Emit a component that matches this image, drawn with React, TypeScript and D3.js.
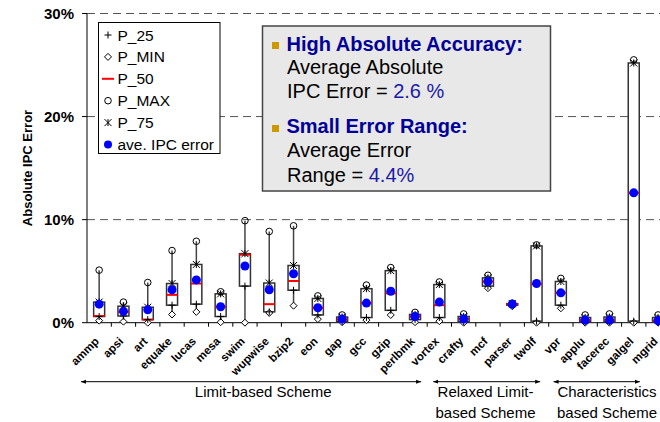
import React from "react";
import * as d3 from "d3";

const categories = ["ammp","apsi","art","equake","lucas","mesa","swim","wupwise","bzip2","eon","gap","gcc","gzip","perlbmk","vortex","crafty","mcf","parser","twolf","vpr","applu","facerec","galgel","mgrid"];
const pMin = [0.2,0.1,0.0,0.8,1.05,0.05,0.0,0.95,1.65,0.35,0.05,0.25,0.75,0.05,0.15,0.0,3.35,1.6,0.0,1.4,0.0,0.0,0.0,0.0];
const p25 = [0.6,0.65,0.3,1.7,1.8,0.6,3.55,1.05,3.15,0.75,0.1,0.5,1.2,0.3,0.5,0.1,3.55,1.7,0.15,1.7,0.1,0.1,0.15,0.05];
const p50 = [0.65,1.05,0.3,2.7,3.8,1.55,6.6,1.8,4.05,1.45,0.3,1.9,2.85,0.6,1.7,0.35,4.0,1.8,3.75,2.9,0.25,0.25,12.6,0.2];
const p75 = [2.0,1.6,1.5,3.8,5.65,2.8,6.7,3.85,5.55,2.35,0.55,3.3,5.05,0.8,3.7,0.6,4.35,1.85,7.45,4.0,0.5,0.55,25.2,0.5];
const pMax = [5.1,2.0,3.9,7.0,7.9,3.0,9.9,8.85,9.4,2.6,0.75,3.65,5.35,1.0,3.95,0.85,4.6,1.9,7.55,4.3,0.75,0.85,25.5,0.75];
const avgErr = [1.8,1.1,1.25,3.2,4.15,1.55,5.5,3.2,4.75,1.45,0.35,1.9,3.05,0.6,2.0,0.35,4.0,1.8,3.8,2.9,0.25,0.25,12.6,0.2];
const yTicks = [0,10,20,30];
const legendLabels = ["P_25","P_MIN","P_50","P_MAX","P_75","ave. IPC error"];
// arrow spans in category-index units
const groups = [
  { lines: ["Limit-based Scheme"], from: -0.25, to: 13.75 },
  { lines: ["Relaxed Limit-", "based Scheme"], from: 14.25, to: 18.65 },
  { lines: ["Characteristics", "based Scheme"], from: 19.2, to: 22.75 },
];
const groupTextIdx = [7.25, 16.4, 21.4];

const FONT = "'Liberation Sans', Arial, sans-serif";

const x = d3.scaleBand<string>().domain(categories).range([87, 87 + 24 * 24.3]).padding(0);
const xi = d3.scaleLinear().domain([0, 24]).range([87, 87 + 24 * 24.3]);
const y = d3.scaleLinear().domain([0, 30]).range([322.7, 13.5]);

function Plus({ cx, cy, s = 3.5 }: { cx: number; cy: number; s?: number }) {
  return <path d={`M${cx - s},${cy}H${cx + s}M${cx},${cy - s}V${cy + s}`} stroke="#000" strokeWidth={1} fill="none" />;
}
function Diamond({ cx, cy, s = 3.5 }: { cx: number; cy: number; s?: number }) {
  return <path d={`M${cx},${cy - s}L${cx + s},${cy}L${cx},${cy + s}L${cx - s},${cy}Z`} stroke="#000" strokeWidth={1} fill="#fff" />;
}
function Star({ cx, cy, s = 3.5 }: { cx: number; cy: number; s?: number }) {
  return <path d={`M${cx - s},${cy - s}L${cx + s},${cy + s}M${cx - s},${cy + s}L${cx + s},${cy - s}M${cx},${cy - s}V${cy + s}`} stroke="#000" strokeWidth={1} fill="none" />;
}

export default function App() {
  const bw = 11;
  const arrowY = 381.7;
  return (
    <div style={{ position: "fixed", left: 0, top: 0 }}>
      <svg width={660} height={422} style={{ display: "block", fontFamily: FONT }}>
        <rect width={660} height={422} fill="#fff" />
        {yTicks.filter(t => t > 0).map(t => (
          <line key={t} x1={87} x2={660} y1={y(t)} y2={y(t)} stroke="#555" strokeWidth={1} strokeDasharray="8,5" />
        ))}
        <line x1={87} x2={87} y1={y(30)} y2={y(0)} stroke="#000" strokeWidth={1} />
        <line x1={87} x2={660} y1={y(0)} y2={y(0)} stroke="#000" strokeWidth={1} />
        {yTicks.map(t => (
          <g key={t}>
            <line x1={82} x2={87} y1={y(t)} y2={y(t)} stroke="#000" />
            <text x={74} y={y(t) + 5.5} textAnchor="end" fontSize={15} fontWeight="bold">{t}%</text>
          </g>
        ))}
        {categories.slice(1).map(c => (
          <line key={c} x1={x(c)!} x2={x(c)!} y1={y(0)} y2={y(0) + 4} stroke="#000" />
        ))}
        <text transform="translate(32,168) rotate(-90)" textAnchor="middle" fontSize={13} fontWeight="bold">Absolute IPC Error</text>
        {categories.map((c, i) => {
          const cx = x(c)! + x.bandwidth() / 2;
          return (
            <g key={c}>
              <line x1={cx} x2={cx} y1={y(pMax[i])} y2={y(pMin[i])} stroke="#444" strokeWidth={1.5} />
              <rect x={cx - bw / 2} width={bw} y={y(p75[i])} height={Math.max(0.5, y(p25[i]) - y(p75[i]))} fill="#fff" stroke="#333" strokeWidth={1.5} />
              <line x1={cx - bw / 2} x2={cx + bw / 2} y1={y(p50[i])} y2={y(p50[i])} stroke="#ff0000" strokeWidth={2} />
              <Diamond cx={cx} cy={y(pMin[i])} />
              <Plus cx={cx} cy={y(p25[i])} />
              <Star cx={cx} cy={y(p75[i])} />
              <circle cx={cx} cy={y(pMax[i])} r={3.3} fill="none" stroke="#000" strokeWidth={1} />
              <circle cx={cx} cy={y(avgErr[i])} r={4.5} fill="#0000ff" />
            </g>
          );
        })}
        {categories.map(c => {
          const cx = x(c)! + x.bandwidth() / 2;
          return (
            <text key={c} transform={`translate(${cx + 0.5},${342}) rotate(-45)`} textAnchor="end" fontSize={11.5} fontWeight="bold">{c}</text>
          );
        })}
        <defs>
          <marker id="ah" viewBox="0 0 10 10" refX={10} refY={5} markerWidth={5} markerHeight={5} orient="auto-start-reverse">
            <path d="M0,1L10,5L0,9Z" fill="#000" />
          </marker>
        </defs>
        {groups.map((g, gi) => (
          <g key={gi}>
            <line x1={xi(g.from)} x2={xi(g.to)} y1={arrowY} y2={arrowY} stroke="#000" strokeWidth={1} markerStart="url(#ah)" markerEnd="url(#ah)" />
            {g.lines.map((l, li) => (
              <text key={li} x={xi(groupTextIdx[gi])} y={397 + li * 21} textAnchor="middle" fontSize={15}>{l}</text>
            ))}
          </g>
        ))}
        <rect x={98.5} y={22.5} width={121.5} height={131} fill="#fff" stroke="#000" strokeWidth={1} />
        {legendLabels.map((l, i) => {
          const cy = 35 + i * 21.9;
          const sx = 108;
          let sym: React.ReactNode = null;
          if (i === 0) sym = <Plus cx={sx} cy={cy} />;
          else if (i === 1) sym = <Diamond cx={sx} cy={cy} />;
          else if (i === 2) sym = <line x1={sx - 6} x2={sx + 6} y1={cy} y2={cy} stroke="#ff0000" strokeWidth={2} />;
          else if (i === 3) sym = <circle cx={sx} cy={cy} r={3.3} fill="none" stroke="#000" />;
          else if (i === 4) sym = <Star cx={sx} cy={cy} />;
          else sym = <circle cx={sx} cy={cy} r={4} fill="#0000ff" />;
          return (
            <g key={l}>
              {sym}
              <text x={117.5} y={cy + 5.5} fontSize={15.5}>{l}</text>
            </g>
          );
        })}
        <rect x={262.5} y={26} width={288} height={165} fill="#e8e8e8" stroke="#444" strokeWidth={1.5} />
        <rect x={272} y={42} width={7} height={7} fill="#cc9900" />
        <rect x={272} y={125} width={7} height={7} fill="#cc9900" />
        <text x={286.5} y={50.7} fontSize={20} fontWeight="bold" fill="#000099">High Absolute Accuracy:</text>
        <text x={287} y={74.3} fontSize={20}>Average Absolute</text>
        <text x={287} y={98.3} fontSize={20}>IPC Error = <tspan fill="#1a1aa6">2.6 %</tspan></text>
        <text x={286.5} y={133.3} fontSize={20} fontWeight="bold" fill="#000099">Small Error Range:</text>
        <text x={287} y={157.3} fontSize={20}>Average Error</text>
        <text x={287} y={181.7} fontSize={20}>Range = <tspan fill="#1a1aa6">4.4%</tspan></text>
      </svg>
    </div>
  );
}
